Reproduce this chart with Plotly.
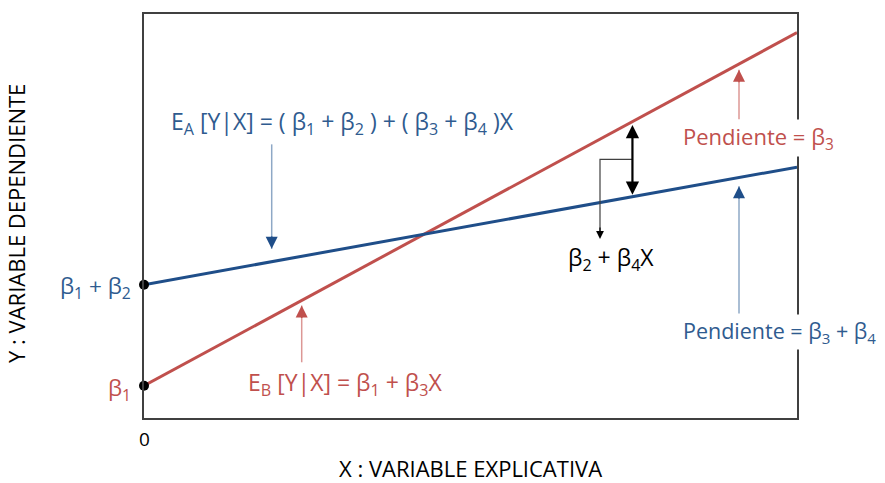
import plotly.graph_objects as go

# ---- model parameters (arbitrary units) ----
x_range = [0, 10]
y_range = [0, 10]
beta1 = 0.80
beta2 = 2.50
beta3 = 0.874
beta4 = -0.583
x_vals = [0, 10]
x_gap = 7.48  # where the difference arrow is drawn

RED = "#C0504D"
BLUE_LINE = "#1F4E89"
BLUE_TXT = "#2F5B8F"
BLUE_LIGHT = "#8EA8C6"
RED_LIGHT = "#DC9795"
FONT = "Open Sans"

W, H = 885, 483
L, T = 144, 12
PW, PH = 653, 406
R = W - L - PW
B = H - T - PH

def dx(px):
    return x_range[0] + (px - L) / PW * (x_range[1] - x_range[0])

def dy(py):
    return y_range[0] + (PH - (py - T)) / PH * (y_range[1] - y_range[0])

def pxp(px):
    return (px - L) / PW

def pyp(py):
    return 1 - (py - T) / PH

def red(x):
    return beta1 + beta3 * x

def blue(x):
    return beta1 + beta2 + (beta3 + beta4) * x

fig = go.Figure()
fig.add_trace(go.Scatter(x=x_vals, y=[red(v) for v in x_vals], mode="lines",
                         line=dict(color=RED, width=3), hoverinfo="skip"))
fig.add_trace(go.Scatter(x=x_vals, y=[blue(v) for v in x_vals], mode="lines",
                         line=dict(color=BLUE_LINE, width=3), hoverinfo="skip"))
fig.add_trace(go.Scatter(x=[0, 0], y=[beta1, beta1 + beta2], mode="markers",
                         marker=dict(color="black", size=10), cliponaxis=False,
                         hoverinfo="skip"))

ann = []
shapes = []

def arrow(xp, y_from, y_to, light, dark, head_len=14):
    shapes.append(dict(type="line", xref="x", yref="y", x0=dx(xp), x1=dx(xp),
                       y0=dy(y_from), y1=dy(y_to), line=dict(color=light, width=1.5)))
    d = 1 if y_to > y_from else -1
    ann.append(dict(x=dx(xp), y=dy(y_to), ax=dx(xp), ay=dy(y_to - d * head_len),
                    xref="x", yref="y", axref="x", ayref="y", text="", showarrow=True,
                    arrowhead=2, arrowsize=1.6, arrowwidth=1.5, arrowcolor=dark))

arrow(271.7, 143, 248, BLUE_LIGHT, BLUE_LINE)
arrow(301.7, 362, 305, RED_LIGHT, RED)
arrow(739, 118, 68, RED_LIGHT, RED)
arrow(739, 313, 185, BLUE_LIGHT, BLUE_LINE)

# double arrow between lines
ann.append(dict(x=x_gap, y=blue(x_gap) + 0.05, ax=x_gap, ay=red(x_gap) - 0.05,
                xref="x", yref="y", axref="x", ayref="y", text="", showarrow=True,
                arrowhead=2, startarrowhead=2, arrowside="end+start",
                arrowsize=1.2, startarrowsize=1.2, arrowwidth=2.2, arrowcolor="black"))
# bracket
shapes.append(dict(type="path", xref="x", yref="y",
                   path=f"M {dx(632)} {dy(158)} L {dx(600)} {dy(158)} L {dx(600)} {dy(230)}",
                   line=dict(color="#404040", width=1.2)))
ann.append(dict(x=dx(600), y=dy(238), ax=dx(600), ay=dy(225), xref="x", yref="y",
                axref="x", ayref="y", text="", showarrow=True, arrowhead=2,
                arrowsize=1.3, arrowwidth=1.2, arrowcolor="black"))

def text(xp, yp, s, color, size, xanchor="center", bg=None, angle=0):
    d = dict(x=pxp(xp), y=pyp(yp), xref="paper", yref="paper", text=s, showarrow=False,
             xanchor=xanchor, yanchor="middle", textangle=angle,
             font=dict(family=FONT, size=size, color=color))
    if bg:
        d["bgcolor"] = bg
    ann.append(d)

text(169, 121, "E<sub>A</sub> [Y|X] = ( β<sub>1</sub> + β<sub>2</sub> ) + ( β<sub>3</sub> + β<sub>4</sub> )X",
     BLUE_TXT, 23, xanchor="left")
text(246, 383, "E<sub>B</sub> [Y|X] = β<sub>1</sub> + β<sub>3</sub>X", RED, 23, xanchor="left")
text(681, 137, "Pendiente = β<sub>3</sub>", RED, 22, xanchor="left", bg="white")
text(681, 332, "Pendiente = β<sub>3</sub> + β<sub>4</sub>", BLUE_TXT, 21.5, xanchor="left", bg="white")
text(611, 258, "β<sub>2</sub> + β<sub>4</sub>X", "black", 23)
text(133, 286, "β<sub>1</sub> + β<sub>2</sub>", BLUE_TXT, 22.5, xanchor="right")
text(133, 389, "β<sub>1</sub>", RED, 22.5, xanchor="right")
text(144, 439, "0", "black", 19)
text(471, 468, "X : VARIABLE EXPLICATIVA", "black", 22)
text(16, 223, "Y : VARIABLE DEPENDIENTE", "black", 22, angle=-90)

axis_common = dict(showgrid=False, zeroline=False, showticklabels=False, ticks="",
                   showline=True, mirror=True, linecolor="#404040", linewidth=2)
fig.update_layout(
    width=W, height=H, margin=dict(l=L, r=R, t=T, b=B),
    plot_bgcolor="white", paper_bgcolor="white", showlegend=False,
    xaxis=dict(range=x_range, **axis_common),
    yaxis=dict(range=y_range, **axis_common),
    annotations=ann, shapes=shapes,
)
fig.write_html("out.html", config={"displayModeBar": False},
               post_script="document.body.style.margin='0';")
